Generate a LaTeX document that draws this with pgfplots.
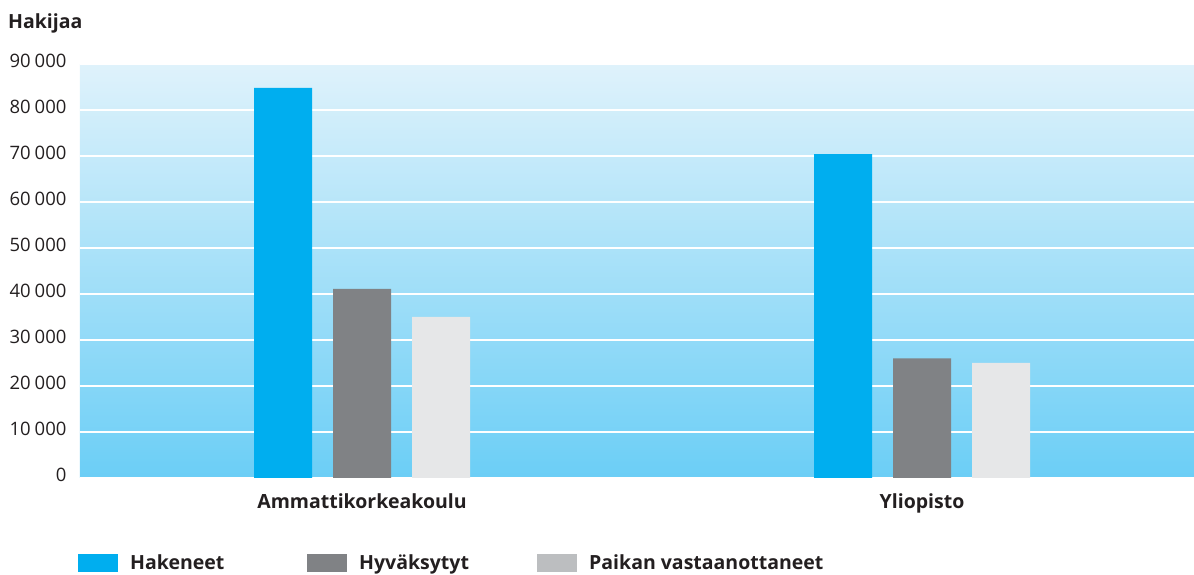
\documentclass[border=0pt]{standalone}
\usepackage{pgfplots}
\pgfplotsset{compat=1.18}
\usepackage{fontspec}
\setmainfont{Open Sans}
\definecolor{cblue}{HTML}{00AEEF}
\definecolor{cgray}{HTML}{808285}
\definecolor{clight}{HTML}{E6E7E8}
\definecolor{clegl}{HTML}{BCBEC0}
\definecolor{bgtop}{HTML}{DFF2FB}
\definecolor{bgbot}{HTML}{6BCEF6}
\definecolor{txt}{HTML}{231F20}
\begin{document}
\begin{tikzpicture}
\useasboundingbox (-80pt,-97pt) rectangle (1114pt,478pt);
\begin{axis}[
  at={(0,0)}, anchor=south west,
  scale only axis, width=1114pt, height=414pt,
  xmin=-0.5036, xmax=1.4857, ymin=0, ymax=90000,
  ybar=21pt, bar width=58pt,
  axis line style={draw=none},
  major tick length=0pt,
  axis background/.style={top color=bgtop, bottom color=bgbot},
  ymajorgrids, grid style={white, line width=1.3pt},
  ytick={0,10000,...,90000},
  xtick={0,1}, xticklabels={Ammattikorkeakoulu,Yliopisto},
  xticklabel style={font=\fontsize{19.5}{22}\selectfont\bfseries, text=txt, anchor=base, yshift=-31pt},
  yticklabel style={font=\fontsize{18.5}{22}\selectfont, text=txt, anchor=east, xshift=-10pt, yshift=3pt},
  scaled y ticks=false,
  /pgf/number format/.cd, assume math mode=true, 1000 sep={\hspace{0.22em}}, /pgfplots/.cd,
  clip=false,
  legend columns=3,
  legend image code/.code={\fill[#1, draw=none] (0pt,-9pt) rectangle (40pt,9pt);},
  legend style={draw=none, fill=none, at={(axis description cs:0,0)}, anchor=west, xshift=-2pt, yshift=-85pt,
    font=\fontsize{19.5}{22}\selectfont\bfseries, text=txt, inner sep=0pt,
    /tikz/every odd column/.append style={column sep=10pt}},
  legend cell align=left,
]
\addplot[fill=cblue, draw=none] coordinates {(0,84800) (1,70400)};
\addlegendentry{\makebox[175pt][l]{Hakeneet}}
\addplot[fill=cgray, draw=none] coordinates {(0,41100) (1,26000)};
\addlegendentry{\makebox[176pt][l]{Hyväksytyt}}
\addplot[fill=clight, draw=none, legend image code/.code={\fill[clegl] (0pt,-9pt) rectangle (40pt,9pt);}] coordinates {(0,35000) (1,25000)};
\addlegendentry{Paikan vastaanottaneet}
\node[anchor=base west, font=\fontsize{19.5}{22}\selectfont\bfseries, text=txt, inner sep=0pt] at ([xshift=-72pt,yshift=36pt]rel axis cs:0,1) {Hakijaa};
\end{axis}
\end{tikzpicture}
\end{document}
